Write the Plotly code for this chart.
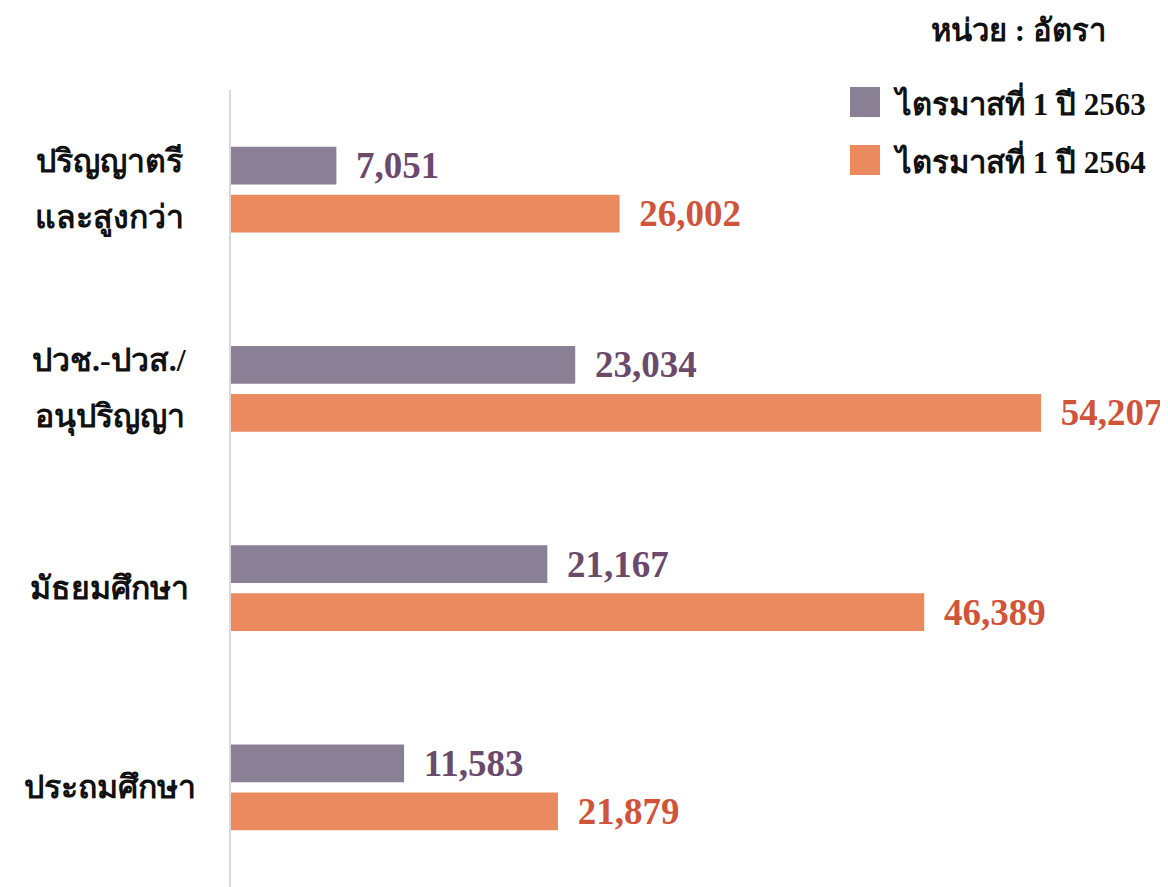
import plotly.graph_objects as go

categories = ["ปริญญาตรี<br>และสูงกว่า", "ปวช.-ปวส./<br>อนุปริญญา", "มัธยมศึกษา", "ประถมศึกษา"]
series_names = ["ไตรมาสที่ 1 ปี 2563", "ไตรมาสที่ 1 ปี 2564"]
values_2563 = [7051, 23034, 21167, 11583]
values_2564 = [26002, 54207, 46389, 21879]

bar_colors = ["#8a8095", "#eb8a5f"]
label_colors = ["#6b4a6b", "#d0543a"]
FONT = "Liberation Serif, Times New Roman, serif"

# the page adds an 8px body margin; plot area sits at page x 231, y 90
W, H = 1160, 879
L, T = 223, 82
PW, PH = W - L, H - T


def px(x):
    return (x - 8 - L) / PW


def py(y):
    return 1 - (y - 8 - T) / PH


fig = go.Figure()
for name, vals, bc, lc in zip(series_names, [values_2563, values_2564], bar_colors, label_colors):
    fig.add_trace(go.Bar(
        y=categories, x=vals, name=name, orientation="h",
        marker=dict(color=bc, line=dict(width=0)),
        texttemplate="\u00a0\u2009<b>%{x:,}</b>", textposition="outside",
        textfont=dict(family=FONT, size=37, color=lc),
        constraintext="none", cliponaxis=False, showlegend=False,
    ))

# category labels, centred like the original, one annotation per line
for cat in categories:
    lines = cat.split("<br>")
    for j, line in enumerate(lines):
        shift = (len(lines) - 1) * 28.5 - j * 57
        fig.add_annotation(x=px(110), xref="paper", xanchor="center", y=cat, yref="y",
                           yshift=shift, text=f"<b>{line}</b>", showarrow=False,
                           font=dict(family=FONT, size=32, color="#111"))

# unit + legend
fig.add_annotation(x=px(1018), y=py(30), xref="paper", yref="paper",
                   xanchor="center", yanchor="middle", text="<b>หน่วย : อัตรา</b>",
                   showarrow=False, font=dict(family=FONT, size=31, color="#111"))
for i, (name, bc) in enumerate(zip(series_names, bar_colors)):
    yc = 102 + i * 58
    fig.add_shape(type="rect", xref="paper", yref="paper",
                  x0=px(850), x1=px(880), y0=py(yc - 15), y1=py(yc + 15),
                  fillcolor=bc, line=dict(width=0))
    fig.add_annotation(x=px(891), y=py(yc), xref="paper", yref="paper",
                       xanchor="left", yanchor="middle",
                       text=f"<b>{name}</b>", showarrow=False,
                       font=dict(family=FONT, size=31, color="#111"))

fig.update_layout(
    barmode="group", bargap=0.52, bargroupgap=0.21,
    width=W, height=H, margin=dict(l=L, r=0, t=T, b=0),
    plot_bgcolor="white", paper_bgcolor="white",
    xaxis=dict(range=[0, 62700], visible=False),
    yaxis=dict(autorange="reversed", showticklabels=False, showline=True,
               linecolor="#d9d9d9", linewidth=2, showgrid=False, ticks=""),
)

fig.write_html("out.html")
